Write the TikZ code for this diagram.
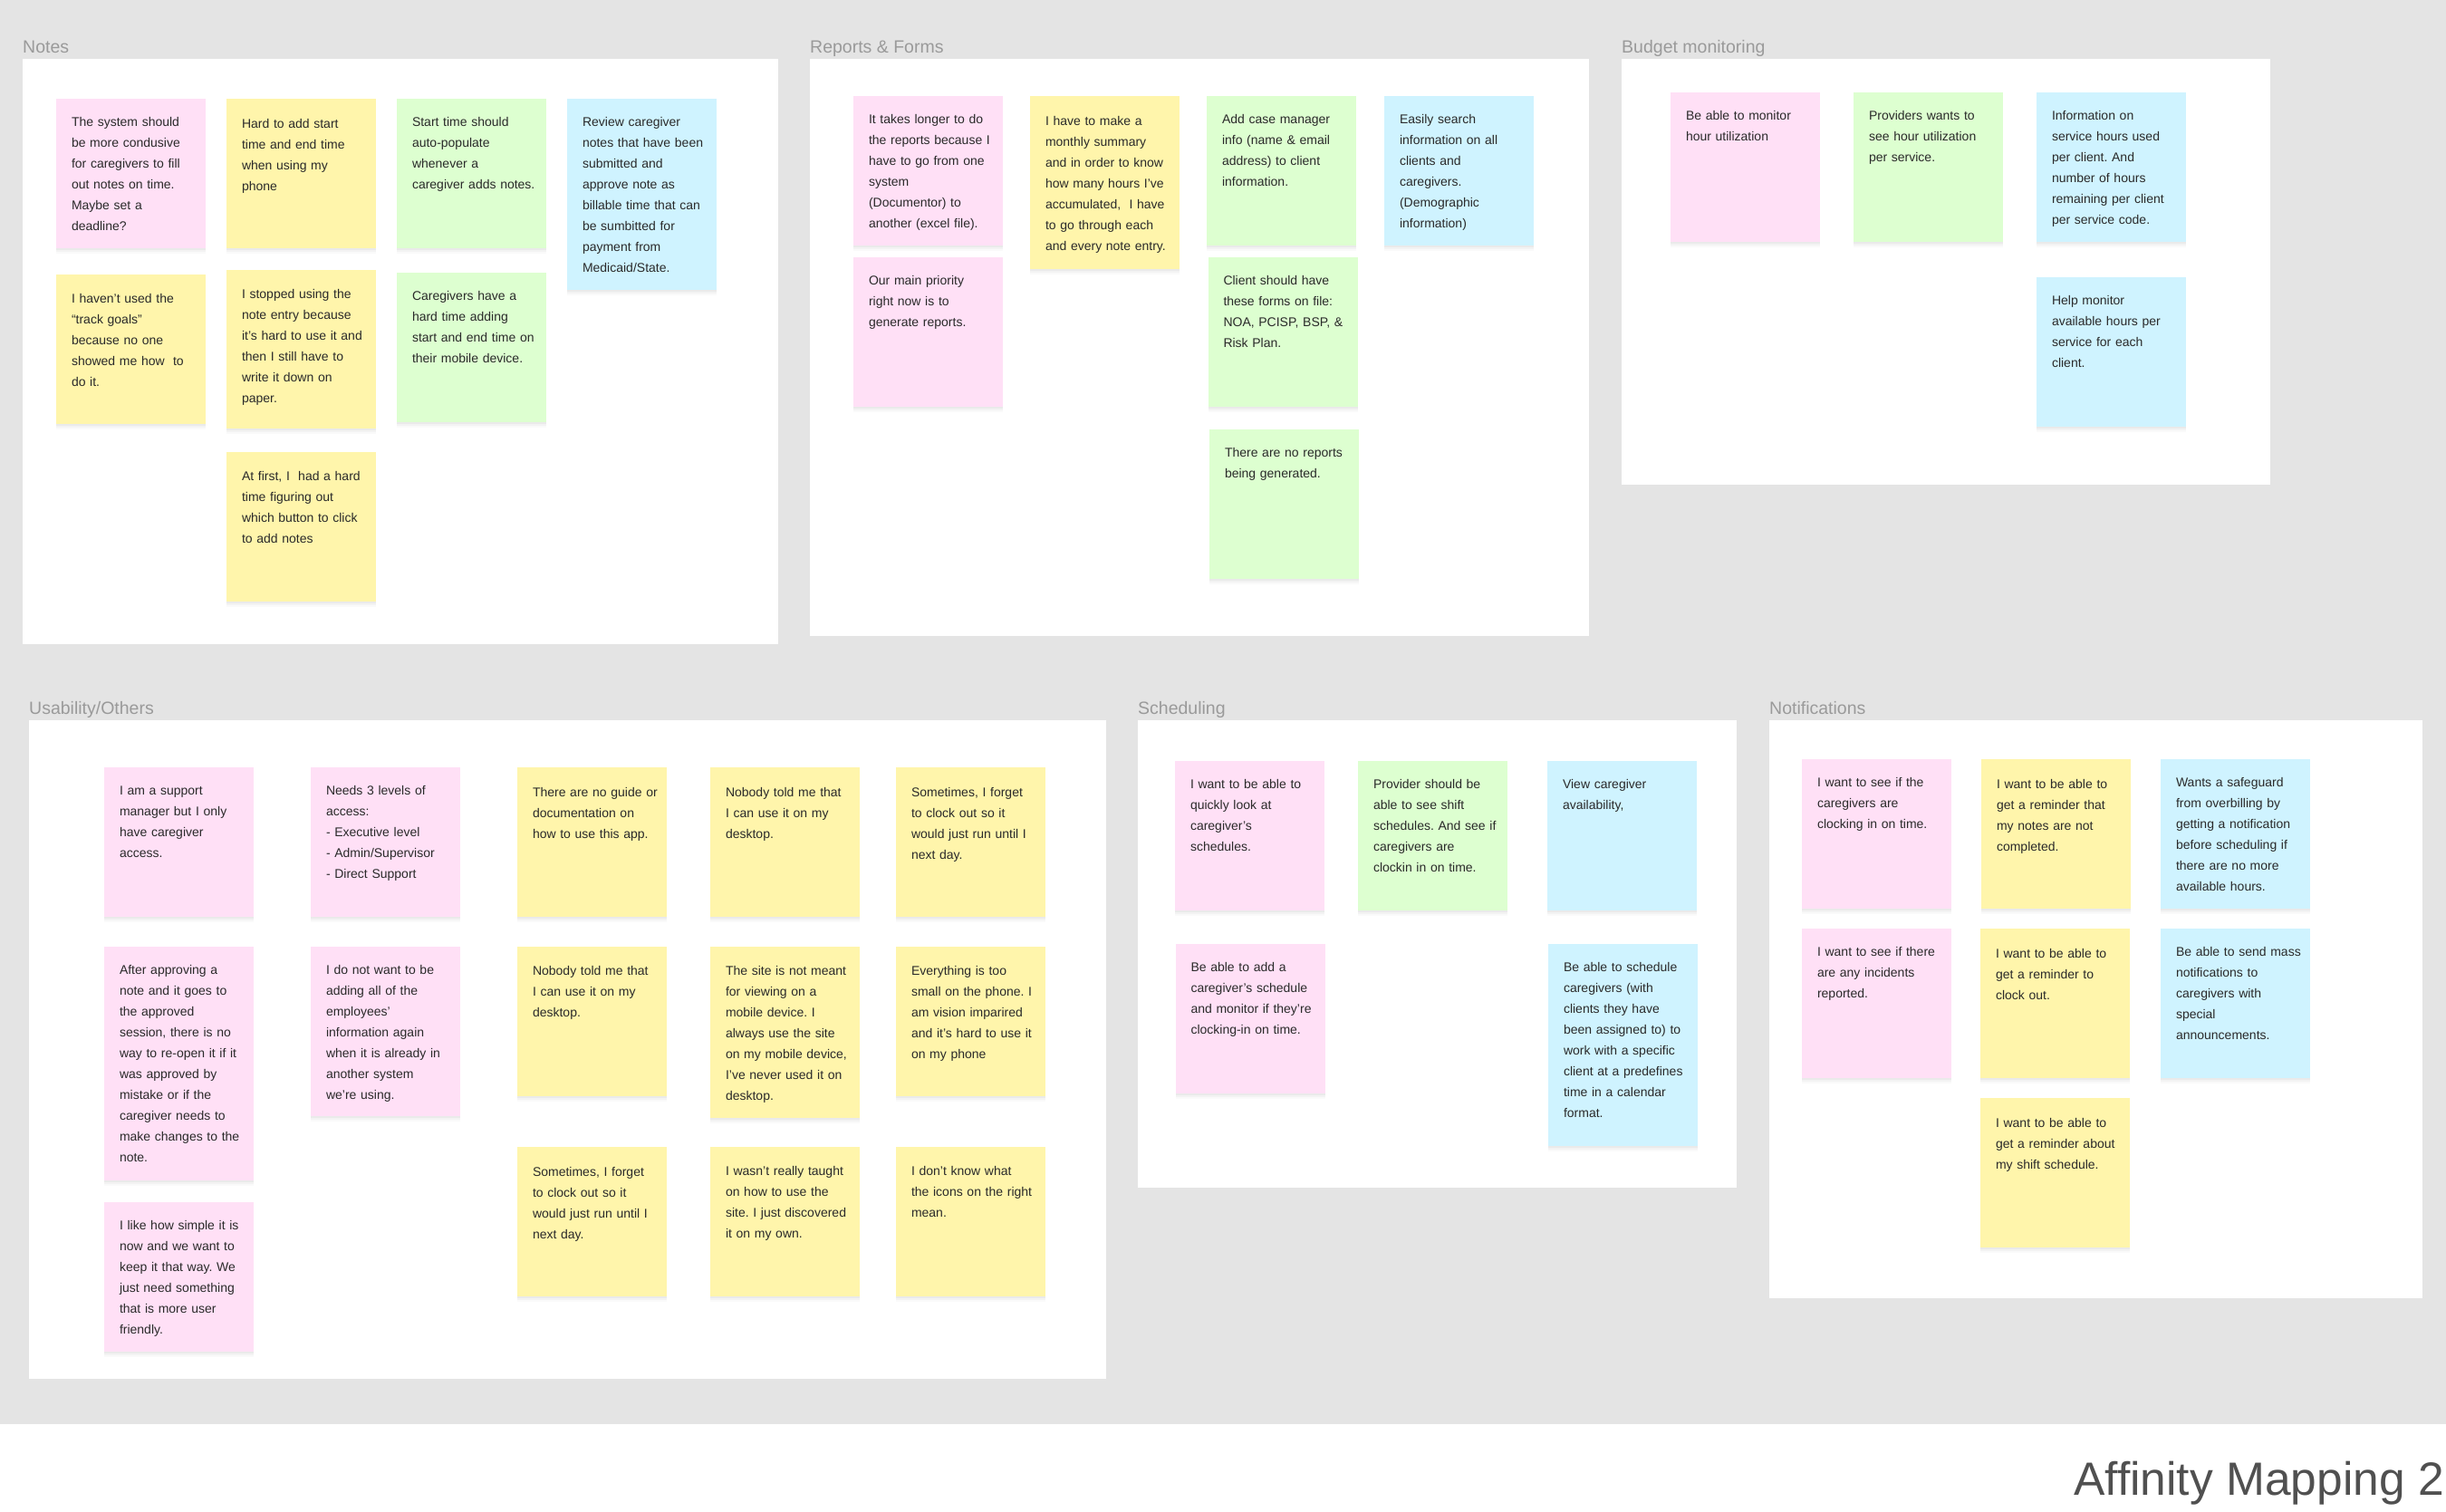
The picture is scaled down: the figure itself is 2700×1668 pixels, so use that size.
\documentclass[tikz,border=0pt]{standalone}
\usepackage{fontspec}
\setmainfont{Liberation Sans}
\usepackage{xcolor}
\usetikzlibrary{positioning, shadows}
\definecolor{canvasgray}{HTML}{E4E4E4}
\definecolor{titlegray}{HTML}{9A9A9A}
\definecolor{headgray}{HTML}{505050}
\definecolor{notetext}{HTML}{2A2A2A}
\definecolor{notepink}{HTML}{FFE0F6}
\definecolor{noteyellow}{HTML}{FFF5AB}
\definecolor{notegreen}{HTML}{DDFFD0}
\definecolor{noteblue}{HTML}{CFF3FF}

\begin{document}
\begin{tikzpicture}[x=1pt, y=-1pt]
\tikzstyle{board} = [rectangle, fill=white, anchor=north west, inner sep=0pt, outer sep=0pt]
\tikzstyle{boardtitle} = [text=titlegray, inner sep=0pt, text height=15pt, text depth=4pt, font=\fontsize{19.5}{23}\selectfont]
\tikzstyle{sticky} = [rectangle, outer sep=0pt, inner xsep=17pt, inner ysep=0pt, text width=131pt, text height=30.8pt, text depth=134.2pt, text=notetext, font=\fontsize{14}{23}\selectfont, drop shadow={opacity=0.04, shadow xshift=0pt, shadow yshift=-6pt}, drop shadow={opacity=0.05, shadow xshift=0pt, shadow yshift=-4pt}, drop shadow={opacity=0.07, shadow xshift=0pt, shadow yshift=-2pt}, execute at begin node={\frenchspacing\rightskip=-12pt plus 1fil\relax}]
\tikzstyle{pink} = [sticky, fill=notepink]
\tikzstyle{yellow} = [sticky, fill=noteyellow, text height=32.2pt, text depth=132.8pt]
\tikzstyle{green} = [sticky, fill=notegreen]
\tikzstyle{blue} = [sticky, fill=noteblue]

\useasboundingbox (0,0) rectangle (2700,1668);
\fill[white] (0,0) rectangle (2700,1668);
\node (canvas) [rectangle, fill=canvasgray, anchor=north west, inner sep=0pt, outer sep=0pt, minimum width=2700pt, minimum height=1572pt] at (0,0) {};
\node (heading) [text=headgray, anchor=base east, inner sep=0pt, font=\fontsize{51.5}{56}\selectfont] at (2698,1650) {Affinity Mapping 2};

\node (notes) [board, minimum width=834pt, minimum height=646pt] at (25,65) {};
\node (notestitle) [boardtitle, above=2pt of notes.north west, anchor=south west] {Notes};
\node (reports) [board, minimum width=860pt, minimum height=637pt] at (894,65) {};
\node (reportstitle) [boardtitle, above=2pt of reports.north west, anchor=south west] {Reports \& Forms};
\node (budget) [board, minimum width=716pt, minimum height=470pt] at (1790,65) {};
\node (budgettitle) [boardtitle, above=2pt of budget.north west, anchor=south west] {Budget monitoring};
\node (usability) [board, minimum width=1189pt, minimum height=727pt] at (32,795) {};
\node (usabilitytitle) [boardtitle, above=2pt of usability.north west, anchor=south west] {Usability/Others};
\node (scheduling) [board, minimum width=661pt, minimum height=516pt] at (1256,795) {};
\node (schedulingtitle) [boardtitle, above=2pt of scheduling.north west, anchor=south west] {Scheduling};
\node (notifications) [board, minimum width=721pt, minimum height=638pt] at (1953,795) {};
\node (notificationstitle) [boardtitle, above=2pt of notifications.north west, anchor=south west] {Notifications};

\node (system) [pink, anchor=north west] at (62,109) {The system should\\be more condusive\\for caregivers to fill\\out notes on time.\\Maybe set a\\deadline?};
\node (hardadd) [yellow, right=23pt of system.north east, anchor=north west] {Hard to add start\\time and end time\\when using my\\phone};
\node (starttime) [green, right=23pt of hardadd.north east, anchor=north west] {Start time should\\auto-populate\\whenever a\\caregiver adds notes.};
\node (review) [blue, right=23pt of starttime.north east, anchor=north west, text depth=180.2pt] {Review caregiver\\notes that have been\\submitted and\\approve note as\\billable time that can\\be sumbitted for\\payment from\\Medicaid/State.};
\node (havent) [yellow, below=28.5pt of system] {I haven’t used the\\“track goals”\\because no one\\showed me how \ to\\do it.};
\node (stopped) [yellow, below=23.5pt of hardadd, text depth=142.8pt] {I stopped using the\\note entry because\\it’s hard to use it and\\then I still have to\\write it down on\\paper.};
\node (hardtime) [green, below=26.5pt of starttime] {Caregivers have a\\hard time adding\\start and end time on\\their mobile device.};
\node (atfirst) [yellow, below=26pt of stopped] {At first, I \ had a hard\\time figuring out\\which button to click\\to add notes};

\node (longer) [pink, anchor=north west] at (942,106) {It takes longer to do\\the reports because I\\have to go from one\\system\\(Documentor) to\\another (excel file).};
\node (summary) [yellow, right=30pt of longer.north east, anchor=north west, text depth=158.8pt] {I have to make a\\monthly summary\\and in order to know\\how many hours I’ve\\accumulated, \ I have\\to go through each\\and every note entry.};
\node (casemgr) [green, right=30pt of summary.north east, anchor=north west] {Add case manager\\info (name \& email\\address) to client\\information.};
\node (search) [blue, right=31pt of casemgr.north east, anchor=north west] {Easily search\\information on all\\clients and\\caregivers.\\(Demographic\\information)};
\node (priority) [pink, below=13pt of longer] {Our main priority\\right now is to\\generate reports.};
\node (forms) [green, below=13pt of casemgr, xshift=1.5pt] {Client should have\\these forms on file:\\NOA, PCISP, BSP, \&\\Risk Plan.};
\node (noreports) [green, below=24.5pt of forms, xshift=1.5pt] {There are no reports\\being generated.};

\node (monitor) [pink, anchor=north west] at (1844,102) {Be able to monitor\\hour utilization};
\node (providers) [green, right=37pt of monitor.north east, anchor=north west] {Providers wants to\\see hour utilization\\per service.};
\node (hoursused) [blue, right=37pt of providers.north east, anchor=north west] {Information on\\service hours used\\per client. And\\number of hours\\remaining per client\\per service code.};
\node (available) [blue, below=39pt of hoursused] {Help monitor\\available hours per\\service for each\\client.};

\node (support) [pink, anchor=north west] at (115,847) {I am a support\\manager but I only\\have caregiver\\access.};
\node (levels) [pink, right=63pt of support.north east, anchor=north west] {Needs 3 levels of\\access:\\- Executive level\\- Admin/Supervisor\\- Direct Support};
\node (noguide) [yellow, right=63pt of levels.north east, anchor=north west] {There are no guide or\\documentation on\\how to use this app.};
\node (nobodya) [yellow, right=48pt of noguide.north east, anchor=north west] {Nobody told me that\\I can use it on my\\desktop.};
\node (forgeta) [yellow, right=40pt of nobodya.north east, anchor=north west] {Sometimes, I forget\\to clock out so it\\would just run until I\\next day.};
\node (approving) [pink, below=32.5pt of support, text depth=227.2pt] {After approving a\\note and it goes to\\the approved\\session, there is no\\way to re-open it if it\\was approved by\\mistake or if the\\caregiver needs to\\make changes to the\\note.};
\node (simple) [pink, below=24pt of approving] {I like how simple it is\\now and we want to\\keep it that way. We\\just need something\\that is more user\\friendly.};
\node (employees) [pink, below=33pt of levels, text depth=155.8pt] {I do not want to be\\adding all of the\\employees’\\information again\\when it is already in\\another system\\we’re using.};
\node (nobodyb) [yellow, below=32.5pt of noguide] {Nobody told me that\\I can use it on my\\desktop.};
\node (sitemobile) [yellow, below=32.5pt of nobodya, text depth=156.8pt] {The site is not meant\\for viewing on a\\mobile device. I\\always use the site\\on my mobile device,\\I’ve never used it on\\desktop.};
\node (toosmall) [yellow, below=32.5pt of forgeta] {Everything is too\\small on the phone. I\\am vision imparired\\and it’s hard to use it\\on my phone};
\node (forgetb) [yellow, below=56.5pt of nobodyb] {Sometimes, I forget\\to clock out so it\\would just run until I\\next day.};
\node (taught) [yellow, below=32pt of sitemobile] {I wasn’t really taught\\on how to use the\\site. I just discovered\\it on my own.};
\node (icons) [yellow, below=56pt of toosmall] {I don’t know what\\the icons on the right\\mean.};

\node (quickly) [pink, anchor=north west] at (1297,839.5) {I want to be able to\\quickly look at\\caregiver’s\\schedules.};
\node (shifts) [green, right=37pt of quickly.north east, anchor=north west] {Provider should be\\able to see shift\\schedules. And see if\\caregivers are\\clockin in on time.};
\node (availability) [blue, right=44pt of shifts.north east, anchor=north west] {View caregiver\\availability,};
\node (addschedule) [pink, below=37pt of quickly, xshift=0.5pt] {Be able to add a\\caregiver’s schedule\\and monitor if they’re\\clocking-in on time.};
\node (calendar) [blue, below=37pt of availability, xshift=1pt, text depth=192.2pt] {Be able to schedule\\caregivers (with\\clients they have\\been assigned to) to\\work with a specific\\client at a predefines\\time in a calendar\\format.};

\node (clockingin) [pink, anchor=north west] at (1989,838) {I want to see if the\\caregivers are\\clocking in on time.};
\node (incomplete) [yellow, right=33pt of clockingin.north east, anchor=north west] {I want to be able to\\get a reminder that\\my notes are not\\completed.};
\node (safeguard) [blue, right=33pt of incomplete.north east, anchor=north west] {Wants a safeguard\\from overbilling by\\getting a notification\\before scheduling if\\there are no more\\available hours.};
\node (incidents) [pink, below=22pt of clockingin] {I want to see if there\\are any incidents\\reported.};
\node (clockout) [yellow, below=22pt of incomplete, xshift=-1pt] {I want to be able to\\get a reminder to\\clock out.};
\node (massnote) [blue, below=22pt of safeguard] {Be able to send mass\\notifications to\\caregivers with\\special\\announcements.};
\node (shiftreminder) [yellow, below=22pt of clockout] {I want to be able to\\get a reminder about\\my shift schedule.};
\end{tikzpicture}
\end{document}
